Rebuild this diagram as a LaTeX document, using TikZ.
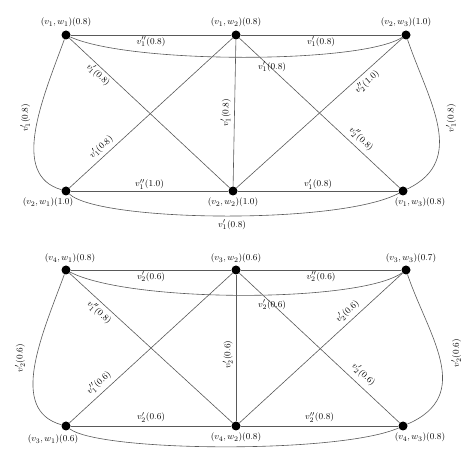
\documentclass[tikz,border=0pt]{standalone}
\usepackage{amsmath}
\usepackage{tikz}
\tikzstyle{vertex} = [circle, fill=black, inner sep=0pt, minimum size=9pt]
\tikzstyle{edge} = [draw=black!65, line width=0.6pt]
\tikzstyle{weight} = [font=\fontsize{9.5}{11}\selectfont, inner sep=1.5pt]
\tikzstyle{tag} = [font=\fontsize{9.5}{11}\selectfont, inner sep=2pt]

\begin{document}
\begin{tikzpicture}[node distance=170pt, x=1pt, y=1pt]
	\useasboundingbox (0,0) rectangle (474,466);
	\node (v1w1) [vertex, label={[tag, name=t11, label distance=1pt]above:$(v_1, w_1)(0.8)$}] at (66,431) {};
	\node (v1w2) [vertex, right of=v1w1, label={[tag, name=t12, label distance=1pt]above:$(v_1, w_2)(0.8)$}] {};
	\node (v2w3) [vertex, right of=v1w2, label={[tag, name=t23, label distance=1pt]above:$(v_2, w_3)(1.0)$}] {};
	\node (v2w1) [vertex, below of=v1w1, yshift=14pt, label={[tag, name=t21, xshift=-18pt]below:$(v_2, w_1)(1.0)$}] {};
	\node (v2w2) [vertex, right of=v2w1, xshift=-3pt, label={[tag, name=t22]below:$(v_2, w_2)(1.0)$}] {};
	\node (v1w3) [vertex, right of=v2w2, label={[tag, name=t13, xshift=17pt]below:$(v_1, w_3)(0.8)$}] {};

	\node (v4w1) [vertex, below of=v2w1, yshift=91pt, label={[tag, name=t41, xshift=4pt]above:$(v_4, w_1)(0.8)$}] {};
	\node (v3w2) [vertex, right of=v4w1, label={[tag, name=t32]above:$(v_3, w_2)(0.6)$}] {};
	\node (v3w3) [vertex, right of=v3w2, label={[tag, name=t33, xshift=5pt]above:$(v_3, w_3)(0.7)$}] {};
	\node (v3w1) [vertex, below of=v4w1, yshift=14pt, label={[tag, name=t31, xshift=-13pt, label distance=2pt]below:$(v_3, w_1)(0.6)$}] {};
	\node (v4w2) [vertex, right of=v3w1, label={[tag, name=t42]below:$(v_4, w_2)(0.8)$}] {};
	\node (v4w3) [vertex, right of=v4w2, xshift=-3pt, label={[tag, name=t43, xshift=17pt]below:$(v_4, w_3)(0.8)$}] {};

	\draw [edge] (v1w1) -- node[weight, below] {$v_1''(0.8)$} (v1w2);
	\draw [edge] (v1w2) -- node[weight, below] {$v_1'(0.8)$} (v2w3);
	\draw [edge] (v2w1) -- node[weight, above] {$v_1''(1.0)$} (v2w2);
	\draw [edge] (v2w2) -- node[weight, above] {$v_1'(0.8)$} (v1w3);
	\draw [edge] (v1w1) -- node[weight, sloped, below, pos=0.21] {$v_1'(0.8)$} (v2w2);
	\draw [edge] (v2w1) -- node[weight, sloped, above=2pt, pos=0.23] {$v_1'(0.8)$} (v1w2);
	\draw [edge] (v2w2) -- node[weight, sloped, above=2pt] {$v_1'(0.8)$} (v1w2);
	\draw [edge] (v1w2) -- node[weight, sloped, above=3pt, pos=0.72] {$v_2''(0.8)$} (v1w3);
	\draw [edge] (v2w2) -- node[weight, sloped, below=2pt, pos=0.75] {$v_2''(1.0)$} (v2w3);
	\draw [edge] (v1w1) .. controls (130,402) and (360,402) .. node[weight, below=3pt, pos=0.57] {$v_1'(0.8)$} (v2w3);
	\draw [edge] (v2w1) .. controls (100,244) and (340,241) .. node[weight, below=2pt, pos=0.52] {$v_1'(0.8)$} (v1w3);
	\draw [edge] (v1w1) .. controls (42,366) and (10,291) .. node[weight, pos=0.42, xshift=-6pt, rotate=90, anchor=south] {$v_1'(0.8)$} (v2w1);
	\draw [edge] (v2w3) .. controls (428,366) and (468,306) .. node[weight, pos=0.45, xshift=8pt, rotate=90, anchor=north] {$v_1'(0.8)$} (v1w3);

	\draw [edge] (v4w1) -- node[weight, below] {$v_2'(0.6)$} (v3w2);
	\draw [edge] (v3w2) -- node[weight, below] {$v_2''(0.6)$} (v3w3);
	\draw [edge] (v3w1) -- node[weight, above=2pt] {$v_2'(0.6)$} (v4w2);
	\draw [edge] (v4w2) -- node[weight, above=2pt] {$v_2''(0.8)$} (v4w3);
	\draw [edge] (v4w1) -- node[weight, sloped, below=2pt, pos=0.22] {$v_1''(0.8)$} (v4w2);
	\draw [edge] (v3w1) -- node[weight, sloped, above=3pt, pos=0.22] {$v_1''(0.6)$} (v3w2);
	\draw [edge] (v4w2) -- node[weight, sloped, above=1.5pt, pos=0.455] {$v_2'(0.6)$} (v3w2);
	\draw [edge] (v3w2) -- node[weight, sloped, above=4pt, pos=0.73] {$v_2'(0.6)$} (v4w3);
	\draw [edge] (v4w2) -- node[weight, sloped, above=2.5pt, pos=0.7] {$v_2'(0.6)$} (v3w3);
	\draw [edge] (v4w1) .. controls (130,163) and (360,163) .. node[weight, below=3pt, pos=0.57] {$v_2'(0.6)$} (v3w3);
	\draw [edge] (v3w1) .. controls (100,14) and (340,12) .. (v4w3);
	\draw [edge] (v4w1) .. controls (42,131) and (8,56) .. node[weight, pos=0.45, xshift=-9.5pt, rotate=90, anchor=south] {$v_2'(0.6)$} (v3w1);
	\draw [edge] (v3w3) .. controls (428,131) and (475,71) .. node[weight, pos=0.45, xshift=11pt, rotate=90, anchor=north] {$v_2'(0.6)$} (v4w3);
\end{tikzpicture}
\end{document}
